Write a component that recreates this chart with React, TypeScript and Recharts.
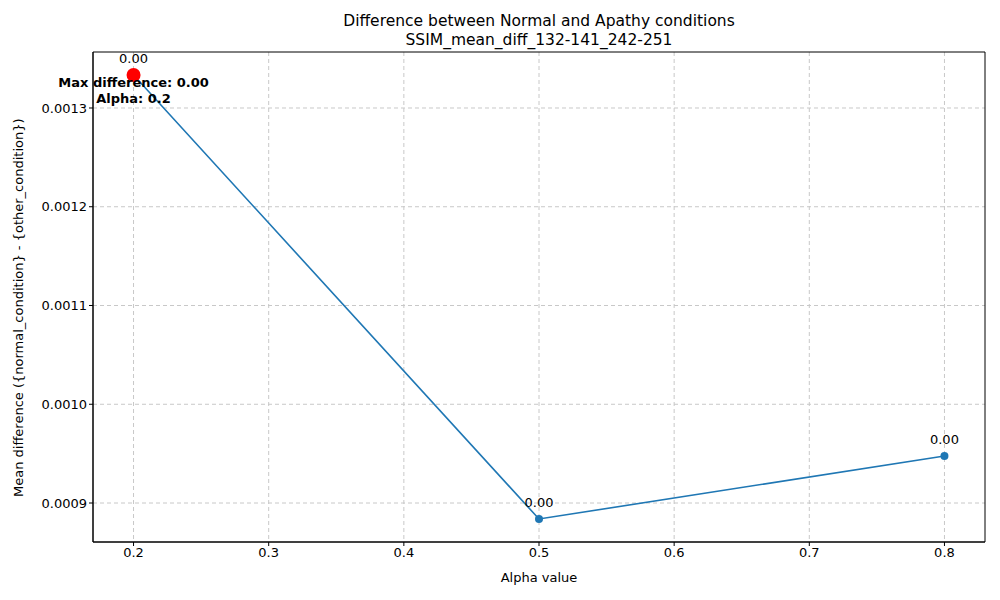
import React from 'react';
import { LineChart, Line, XAxis, YAxis, CartesianGrid, LabelList, ReferenceArea, ReferenceDot } from 'recharts';

const alphas = [0.2, 0.5, 0.8];
const meanDiffs = [0.0013334, 0.0008838, 0.0009476];
const xTicks = [0.2, 0.3, 0.4, 0.5, 0.6, 0.7, 0.8];
const yTicks = [0.0009, 0.001, 0.0011, 0.0012, 0.0013];

const data = alphas.map((a, i) => ({ alpha: a, diff: meanDiffs[i] }));
const BLUE = '#1f77b4';
const FONT = '"DejaVu Sans", sans-serif';

const MaxMarker = (props: any) => {
  const { cx, cy } = props;
  return (
    <g>
      <circle cx={cx} cy={cy} r={7} fill="#ff0000" />
      <text x={cx} y={cy + 12} textAnchor="middle" fontSize={13} fontWeight="bold" fill="#000">Max difference: 0.00</text>
      <text x={cx} y={cy + 28} textAnchor="middle" fontSize={13} fontWeight="bold" fill="#000">Alpha: 0.2</text>
    </g>
  );
};

export default function App() {
  return (
    <div style={{ position: 'absolute', left: 0, top: 0, width: 1000, height: 600, background: '#fff', fontFamily: FONT }}>
      <div style={{ position: 'absolute', left: 93, width: 892, top: 12, textAlign: 'center', fontSize: 15.5, lineHeight: '19px', color: '#000' }}>
        Difference between Normal and Apathy conditions<br />SSIM_mean_diff_132-141_242-251
      </div>
      <LineChart width={1000} height={600} data={data} margin={{ top: 52, right: 15, bottom: 0, left: 0 }} style={{ fontFamily: FONT }}>
        <CartesianGrid stroke="#c8c8c8" strokeDasharray="4 3" horizontalValues={yTicks} verticalValues={xTicks} />
        <XAxis
          dataKey="alpha" type="number" domain={[0.17, 0.83]} ticks={xTicks} height={58}
          tickFormatter={(v: number) => v.toFixed(1)} tick={{ fill: '#000', fontSize: 13 }}
          stroke="#000" tickSize={4} allowDataOverflow
          label={{ value: 'Alpha value', position: 'insideBottom', offset: 18, fill: '#000', fontSize: 13 }}
        />
        <YAxis
          type="number" domain={[0.00086051, 0.0013567]} ticks={yTicks} width={93}
          tickFormatter={(v: number) => v.toFixed(4)} tick={{ fill: '#000', fontSize: 13 }}
          stroke="#000" tickSize={4} allowDataOverflow
          label={{ value: 'Mean difference ({normal_condition} - {other_condition})', angle: -90, position: 'insideLeft', offset: 18, dy: 200, fill: '#000', fontSize: 13 }}
        />
        <ReferenceArea x1={0.17} x2={0.83} y1={0.00086051} y2={0.0013567} fill="none" stroke="#000" strokeWidth={1} ifOverflow="visible" />
        <Line dataKey="diff" stroke={BLUE} strokeWidth={1.6} dot={{ r: 4, fill: BLUE, stroke: 'none' }} isAnimationActive={false}>
          <LabelList dataKey="diff" position="top" offset={12} formatter={(v: any) => Number(v).toFixed(2)} fill="#000" fontSize={13} />
        </Line>
        <ReferenceDot x={alphas[0]} y={meanDiffs[0]} ifOverflow="visible" shape={<MaxMarker />} />
      </LineChart>
    </div>
  );
}
